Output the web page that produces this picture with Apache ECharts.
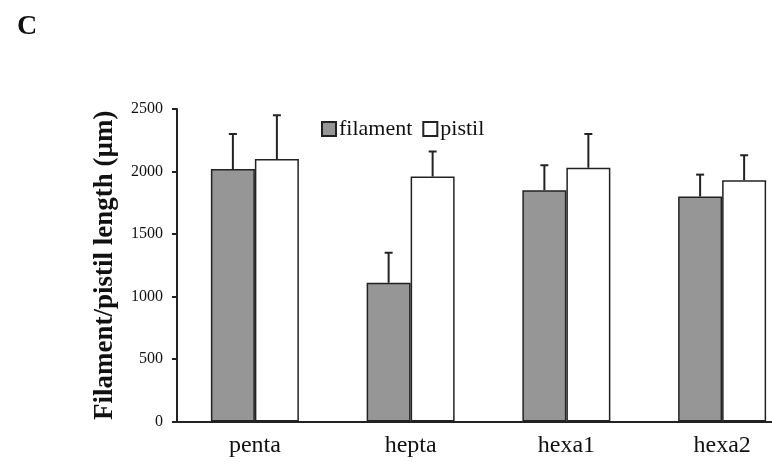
<!DOCTYPE html>
<html>
<head>
<meta charset="utf-8">
<script src="https://cdn.jsdelivr.net/npm/echarts@6/dist/echarts.min.js"></script>
<style>
  html, body { margin: 0; padding: 0; background: #fff; overflow: hidden; }
  /* the plot runs a little past the right edge of the window */
  #chart { width: 800px; height: 462px; }
</style>
</head>
<body>
<div id="chart"></div>
<script>
// Flower organ lengths by line (mean with upper error bar, µm)
const categories = ['penta', 'hepta', 'hexa1', 'hexa2'];
const filamentMean = [2020, 1110, 1850, 1800];
const filamentErrTop = [2300, 1350, 2050, 1975];
const pistilMean = [2100, 1960, 2030, 1930];
const pistilErrTop = [2450, 2160, 2300, 2130];
const yTicks = [0, 500, 1000, 1500, 2000, 2500];

const SERIF = '"Liberation Serif", "Times New Roman", serif';
const INK = '#222';
const BAR_W = 44;

function errorBars(offset) {
  return function (params, api) {
    const catIdx = api.value(0);
    const base = api.coord([catIdx, api.value(1)]);
    const top = api.coord([catIdx, api.value(2)]);
    const x = base[0] + offset;
    const cap = 4;
    return {
      type: 'group',
      children: [
        { type: 'line', shape: { x1: x, y1: base[1], x2: x, y2: top[1] },
          style: { stroke: INK, lineWidth: 2 } },
        { type: 'line', shape: { x1: x - cap, y1: top[1], x2: x + cap, y2: top[1] },
          style: { stroke: INK, lineWidth: 2 } }
      ]
    };
  };
}

const chart = echarts.init(document.getElementById('chart'), null, { renderer: 'canvas' });
chart.setOption({
  animation: false,
  backgroundColor: '#fff',
  title: {
    text: 'C',
    left: 12,
    top: 8,
    textStyle: { fontFamily: SERIF, fontWeight: 'bold', fontSize: 28, color: '#111' }
  },
  legend: {
    left: 316,
    top: 113,
    itemWidth: 14,
    itemHeight: 14,
    itemGap: 10,
    icon: 'rect',
    data: ['filament', 'pistil'],
    textStyle: { fontFamily: SERIF, fontSize: 22, color: '#111', padding: [0, 0, 0, -2] }
  },
  grid: { left: 177, top: 109, width: 623, bottom: 40.5, containLabel: false },
  xAxis: {
    type: 'category',
    data: categories,
    axisLine: { lineStyle: { color: INK, width: 2 } },
    axisTick: { show: false },
    axisLabel: { fontFamily: SERIF, fontSize: 24, color: '#111', margin: 12 }
  },
  yAxis: {
    type: 'value',
    min: yTicks[0],
    max: yTicks[yTicks.length - 1],
    interval: 500,
    name: 'Filament/pistil length (µm)',
    nameLocation: 'middle',
    nameGap: 58,
    nameTextStyle: { fontFamily: SERIF, fontWeight: 'bold', fontSize: 27, color: '#111' },
    axisLine: { show: true, lineStyle: { color: INK, width: 2 } },
    axisTick: { show: true, length: 5, lineStyle: { color: INK, width: 2 } },
    axisLabel: {
      fontFamily: SERIF, fontSize: 16, color: '#111', margin: 14,
      formatter: (v) => String(v)
    },
    splitLine: { show: false }
  },
  series: [
    {
      name: 'filament',
      type: 'bar',
      data: filamentMean,
      barWidth: BAR_W,
      barGap: '0%',
      itemStyle: { color: '#969696', borderColor: INK, borderWidth: 1.5 }
    },
    {
      name: 'pistil',
      type: 'bar',
      data: pistilMean,
      barWidth: BAR_W,
      barGap: '0%',
      itemStyle: { color: '#ffffff', borderColor: INK, borderWidth: 1.5 }
    },
    {
      type: 'custom',
      renderItem: errorBars(-BAR_W / 2),
      data: categories.map((c, i) => [i, filamentMean[i], filamentErrTop[i]]),
      encode: { x: 0, y: [1, 2] },
      z: 3
    },
    {
      type: 'custom',
      renderItem: errorBars(BAR_W / 2),
      data: categories.map((c, i) => [i, pistilMean[i], pistilErrTop[i]]),
      encode: { x: 0, y: [1, 2] },
      z: 3
    }
  ]
});
</script>
</body>
</html>
